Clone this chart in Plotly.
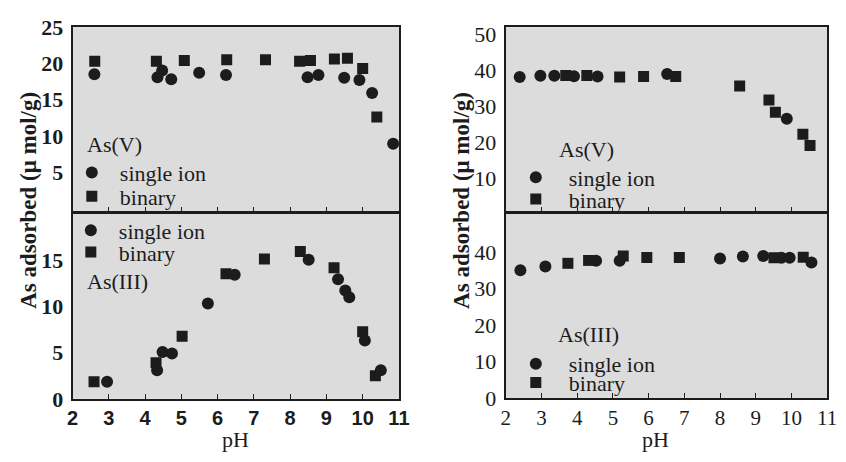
import plotly.graph_objects as go

W, H = 846, 462

# ---- As(V), left set (µmol/g) ----
lv_single_ph = [2.60, 4.34, 4.47, 4.72, 5.49, 6.23, 8.48, 8.78, 9.49, 9.91, 10.26, 10.84]
lv_single_q = [18.5, 18.1, 19.0, 17.8, 18.7, 18.4, 18.1, 18.4, 18.0, 17.7, 15.9, 8.9]
lv_binary_ph = [2.61, 4.31, 5.08, 6.25, 7.32, 8.26, 8.56, 9.22, 9.58, 10.00, 10.39]
lv_binary_q = [20.3, 20.3, 20.4, 20.5, 20.5, 20.3, 20.4, 20.6, 20.7, 19.3, 12.6]

# ---- As(III), left set ----
l3_single_ph = [2.95, 4.33, 4.48, 4.74, 5.73, 6.47, 8.51, 9.32, 9.52, 9.63, 10.06, 10.50]
l3_single_q = [1.85, 3.1, 5.05, 4.9, 10.3, 13.4, 15.0, 12.9, 11.7, 10.95, 6.3, 3.1]
l3_binary_ph = [2.59, 4.30, 5.02, 6.23, 7.29, 8.28, 9.21, 10.00, 10.35]
l3_binary_q = [1.85, 3.9, 6.75, 13.5, 15.1, 15.9, 14.15, 7.25, 2.5]

# ---- As(V), right set ----
rv_single_ph = [2.39, 2.97, 3.36, 3.91, 4.57, 6.52, 9.87]
rv_single_q = [38.1, 38.4, 38.4, 38.3, 38.2, 38.9, 26.5]
rv_binary_ph = [3.68, 4.27, 5.19, 5.86, 6.76, 8.55, 9.37, 9.55, 10.32, 10.52]
rv_binary_q = [38.5, 38.5, 38.1, 38.2, 38.2, 35.6, 31.7, 28.3, 22.2, 19.1]

# ---- As(III), right set ----
r3_single_ph = [2.41, 3.11, 4.53, 5.19, 8.00, 8.64, 9.21, 9.72, 9.95, 10.56]
r3_single_q = [35.1, 36.1, 37.7, 37.7, 38.3, 38.9, 39.0, 38.5, 38.5, 37.2]
r3_binary_ph = [3.74, 4.32, 5.29, 5.95, 6.86, 9.51, 10.33]
r3_binary_q = [37.0, 37.8, 39.0, 38.6, 38.6, 38.5, 38.7]

ph_ticks = [2, 3, 4, 5, 6, 7, 8, 9, 10, 11]

INK = "#1c1c1c"
BG = "#dcdcdc"
SERIF = "Liberation Serif"


def px_x(p):
    return p / W


def px_y(p):
    return 1 - p / H


fig = go.Figure()

# (x axis, y axis, single legend, binary legend, data...)
panels = [
    ("x", "y", "legend", "legend2", lv_single_ph, lv_single_q, lv_binary_ph, lv_binary_q),
    ("x2", "y2", "legend3", "legend4", l3_single_ph, l3_single_q, l3_binary_ph, l3_binary_q),
    ("x3", "y3", "legend5", "legend6", rv_single_ph, rv_single_q, rv_binary_ph, rv_binary_q),
    ("x4", "y4", "legend7", "legend8", r3_single_ph, r3_single_q, r3_binary_ph, r3_binary_q),
]

for xa, ya, lg_s, lg_b, sx, sy, bx, by in panels:
    fig.add_trace(go.Scatter(
        x=sx, y=sy, mode="markers", name="single ion", legend=lg_s,
        xaxis=xa, yaxis=ya, showlegend=True,
        marker=dict(symbol="circle", size=12, color=INK),
    ))
    fig.add_trace(go.Scatter(
        x=bx, y=by, mode="markers", name="binary", legend=lg_b,
        xaxis=xa, yaxis=ya, showlegend=True,
        marker=dict(symbol="square", size=11, color=INK),
    ))

# Stacked panels share one 2px border line at the seam
left_dom = [px_x(68), px_x(401)]
right_dom = [px_x(510), px_x(838)]
top_dom = [px_y(211), px_y(16)]
bot_dom_l = [px_y(409), px_y(213)]
bot_dom_r = [px_y(408), px_y(213)]

line_style = dict(showline=True, linecolor=INK, linewidth=2, mirror=True,
                  showgrid=False, zeroline=False)


def xaxis(dom, anchor, labels, font):
    return dict(
        domain=dom, anchor=anchor, range=[2, 11],
        tickvals=ph_ticks, showticklabels=labels,
        ticks="inside", ticklen=5, tickwidth=1, tickcolor=INK,
        tickfont=font, **line_style,
    )


def yaxis(dom, anchor, rng, vals, font):
    return dict(
        domain=dom, anchor=anchor, range=rng, tickvals=vals,
        ticks="", tickfont=font, ticklabelstandoff=3, **line_style,
    )


left_y_font = dict(family=SERIF, size=22, color=INK, weight="bold")
left_x_font = dict(family="Liberation Sans", size=20, color=INK, weight="bold")
right_y_font = dict(family=SERIF, size=22, color=INK)
right_x_font = dict(family=SERIF, size=21, color=INK)

fig.update_layout(
    width=W, height=H,
    margin=dict(l=0, r=0, t=0, b=0),
    showlegend=True,
    font=dict(family=SERIF, color=INK),
    paper_bgcolor="white",
    plot_bgcolor=BG,
    xaxis=xaxis(left_dom, "y", False, left_x_font),
    yaxis=yaxis(top_dom, "x", [-0.45, 25], [5, 10, 15, 20, 25], left_y_font),
    xaxis2=xaxis(left_dom, "y2", True, left_x_font),
    yaxis2=yaxis(bot_dom_l, "x2", [0, 20], [0, 5, 10, 15], left_y_font),
    xaxis3=xaxis(right_dom, "y3", False, right_x_font),
    yaxis3=yaxis(top_dom, "x3", [0.8, 51.9], [10, 20, 30, 40, 50], right_y_font),
    xaxis4=xaxis(right_dom, "y4", True, right_x_font),
    yaxis4=yaxis(bot_dom_r, "x4", [0, 50.7], [0, 10, 20, 30, 40], right_y_font),
)


def legend_at(x_px, y_px, itemwidth):
    return dict(
        x=px_x(x_px), y=px_y(y_px), xanchor="left", yanchor="middle",
        bgcolor="rgba(0,0,0,0)", borderwidth=0,
        font=dict(family=SERIF, size=22, color=INK),
        itemwidth=itemwidth, visible=True,
    )


fig.update_layout(
    legend=legend_at(59, 170, 46),
    legend2=legend_at(59, 195, 46),
    legend3=legend_at(58, 231, 46),
    legend4=legend_at(58, 254, 46),
    legend5=legend_at(507, 175, 56),
    legend6=legend_at(507, 198, 56),
    legend7=legend_at(507, 372, 56),
    legend8=legend_at(507, 392, 56),
)

# Panel labels
tag_font = dict(family=SERIF, size=22, color=INK)
for txt, xp, yp in [("As(V)", 81, 140), ("As(III)", 81, 285),
                    ("As(V)", 562, 145), ("As(III)", 561, 341)]:
    fig.add_annotation(text=txt, x=px_x(xp), y=px_y(yp), xref="paper", yref="paper",
                       xanchor="left", yanchor="middle", showarrow=False, font=tag_font)

# Axis titles
ytitle = "As adsorbed (\u03bc mol/g)"
title_font = dict(family=SERIF, size=23, color=INK, weight="bold")
for xp in (23, 465):
    fig.add_annotation(text=ytitle, x=px_x(xp), y=px_y(199), xref="paper", yref="paper",
                       textangle=-90, xanchor="center", yanchor="middle",
                       showarrow=False, font=title_font)
for xp in (234, 663):
    fig.add_annotation(text="pH", x=px_x(xp), y=px_y(452), xref="paper", yref="paper",
                       xanchor="center", yanchor="middle", showarrow=False,
                       font=dict(family=SERIF, size=22, color=INK))

fig.write_html("out.html")
